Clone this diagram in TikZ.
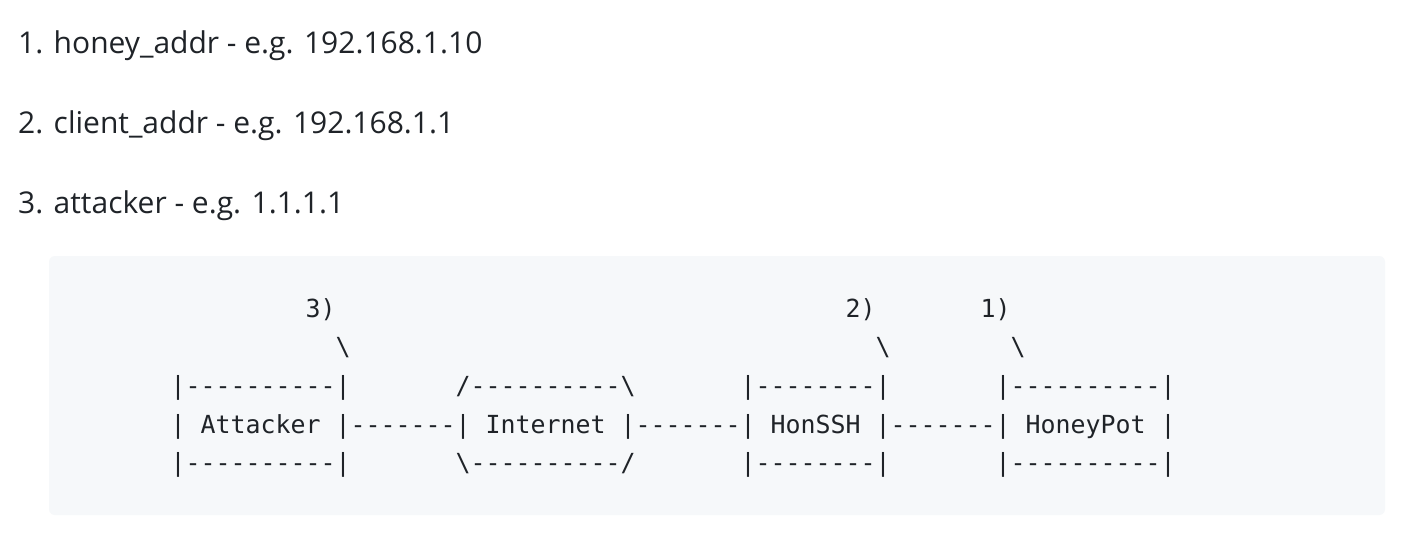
\documentclass[tikz,border=0pt]{standalone}
\usepackage{fontspec}
\setmainfont{Open Sans}
\setmonofont{DejaVu Sans Mono}
\definecolor{fg}{HTML}{1F2328}
\definecolor{codebg}{HTML}{F6F8FA}
\tikzset{
  li/.style={anchor=base west, inner sep=0pt, text=fg, font=\fontsize{30}{36}\selectfont},
  cd/.style={anchor=base west, inner sep=0pt, text=fg, font=\ttfamily\fontsize{24.9}{30}\selectfont},
}
\newcommand{\cx}[1]{170.5+#1*15}
\begin{document}
\begin{tikzpicture}[x=1pt,y=-1pt]
\useasboundingbox (0,0) rectangle (1404,536);
\fill[white] (0,0) rectangle (1404,536);
% list
\node[li] (l1) at (18,53) {1. honey\_addr - e.g. 192.168.1.10};
\node[li] (l2) at (18,133) {2. client\_addr - e.g. 192.168.1.1};
\node[li] (l3) at (18,213) {3. attacker - e.g. 1.1.1.1};
% code block
\fill[codebg, rounded corners=6pt] (49,256) rectangle (1385,515);
% line 1
\node[cd] (n3) at ({\cx{9}},317) {3)};
\node[cd] (n2) at ({\cx{45}},317) {2)};
\node[cd] (n1) at ({\cx{54}},317) {1)};
% line 2
\node[cd] (b3) at ({\cx{11}},355.5) {\textbackslash};
\node[cd] (b2) at ({\cx{47}},355.5) {\textbackslash};
\node[cd] (b1) at ({\cx{56}},355.5) {\textbackslash};
% line 3
\node[cd] (at) at ({\cx{0}},394) {|----------|};
\node[cd] (it) at ({\cx{19}},394) {/----------\textbackslash};
\node[cd] (ht) at ({\cx{38}},394) {|--------|};
\node[cd] (pt) at ({\cx{55}},394) {|----------|};
% line 4
\node[cd] (am) at ({\cx{0}},433) {|};
\node[cd] (att) at ({\cx{2}},433) {Attacker};
\node[cd] (c1) at ({\cx{11}},433) {|-------|};
\node[cd] (int) at ({\cx{21}},433) {Internet};
\node[cd] (c2) at ({\cx{30}},433) {|-------|};
\node[cd] (hon) at ({\cx{40}},433) {HonSSH};
\node[cd] (c3) at ({\cx{47}},433) {|-------|};
\node[cd] (hp) at ({\cx{57}},433) {HoneyPot};
\node[cd] (pm) at ({\cx{66}},433) {|};
% line 5
\node[cd] (ab) at ({\cx{0}},471.5) {|----------|};
\node[cd] (ib) at ({\cx{19}},471.5) {\textbackslash----------/};
\node[cd] (hb) at ({\cx{38}},471.5) {|--------|};
\node[cd] (pb) at ({\cx{55}},471.5) {|----------|};
\end{tikzpicture}
\end{document}
